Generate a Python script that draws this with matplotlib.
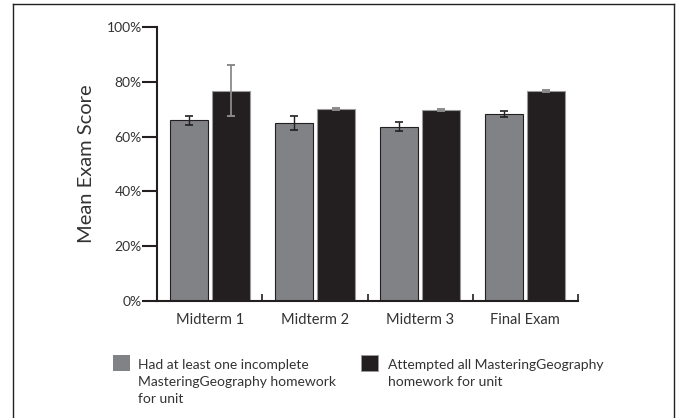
import matplotlib
matplotlib.use('Agg')
import matplotlib.pyplot as plt
import numpy as np
from matplotlib.patches import Rectangle
from matplotlib.lines import Line2D

plt.rcParams['font.family'] = ['Lato', 'DejaVu Sans']

# data
exams = ['Midterm 1', 'Midterm 2', 'Midterm 3', 'Final Exam']
incomplete = [0.660, 0.650, 0.636, 0.684]
incomplete_err = [0.016, 0.027, 0.017, 0.011]
attempted = [0.768, 0.702, 0.696, 0.767]
attempted_err = [0.092, 0.004, 0.004, 0.004]
yticks = [0, 0.2, 0.4, 0.6, 0.8, 1.0]
ytick_labels = ['0%', '20%', '40%', '60%', '80%', '100%']
legend_labels = ['Had at least one incomplete\nMasteringGeography homework\nfor unit',
                 'Attempted all MasteringGeography\nhomework for unit']

gray = '#808285'
black = '#231f20'
ink = '#231f20'

W, H = 676, 418
fig = plt.figure(figsize=(W / 100, H / 100), dpi=100)
ax = fig.add_axes([157 / W, 1 - 301 / H, 421 / W, 274 / H])

x = np.arange(len(exams))
ax.bar(x - 0.2, incomplete, width=0.36, color=gray, edgecolor=ink, linewidth=0.8, zorder=2)
ax.bar(x + 0.2, attempted, width=0.36, color=black, edgecolor='#9a9a9a', linewidth=0.8, zorder=2)
ax.errorbar(x - 0.2, incomplete, yerr=incomplete_err, fmt='none', ecolor=ink,
            elinewidth=1.0, capsize=3, capthick=1.2, zorder=3)
ax.errorbar(x + 0.2, attempted, yerr=attempted_err, fmt='none', ecolor='#8a8a8a',
            elinewidth=1.3, capsize=3, capthick=1.4, zorder=3)

ax.set_xlim(-0.5, len(exams) - 0.5)
ax.set_ylim(0, 1.0)

for s in ['top', 'right']:
    ax.spines[s].set_visible(False)
for s in ['left', 'bottom']:
    ax.spines[s].set_linewidth(1.5)
    ax.spines[s].set_color(ink)

ax.set_yticks(yticks)
ax.set_yticklabels(ytick_labels)
ax.tick_params(axis='y', direction='out', length=11, width=1.5, color=ink,
               labelsize=10, labelcolor='#333333', pad=0)

ax.set_xticks(x)
ax.set_xticklabels(exams)
ax.set_xticks(np.arange(len(exams)) + 0.5, minor=True)
ax.tick_params(axis='x', which='major', length=0, labelsize=10.5, labelcolor='#333333', pad=9)
ax.tick_params(axis='x', which='minor', direction='in', length=5, width=1.2, color=ink)

ax.set_ylabel('Mean Exam Score', fontsize=14.5, color='#333333')
ax.yaxis.set_label_coords(-0.147, 0.5)

# legend drawn by hand to match the layout below the axes
fig.add_artist(Rectangle((113 / W, 1 - 371 / H), 17 / W, 16 / H, transform=fig.transFigure,
                         facecolor=gray, edgecolor='none'))
fig.add_artist(Rectangle((361 / W, 1 - 371 / H), 17 / W, 16 / H, transform=fig.transFigure,
                         facecolor=black, edgecolor='#9a9a9a', linewidth=0.6))
fig.text(138 / W, 1 - 359 / H, legend_labels[0], fontsize=10, va='top', ha='left',
         color='#333333', linespacing=1.5)
fig.text(388 / W, 1 - 359 / H, legend_labels[1], fontsize=10, va='top', ha='left',
         color='#333333', linespacing=1.5)

# outer frame
for xs, ys in [([12.5, 12.5], [3.5, H]), ([12.5, 674], [3.5, 3.5]), ([674, 674], [3.5, H])]:
    fig.add_artist(Line2D([v / W for v in xs], [1 - v / H for v in ys],
                          transform=fig.transFigure, color='#222222', linewidth=1.0))

fig.savefig('out.png', dpi=100)
